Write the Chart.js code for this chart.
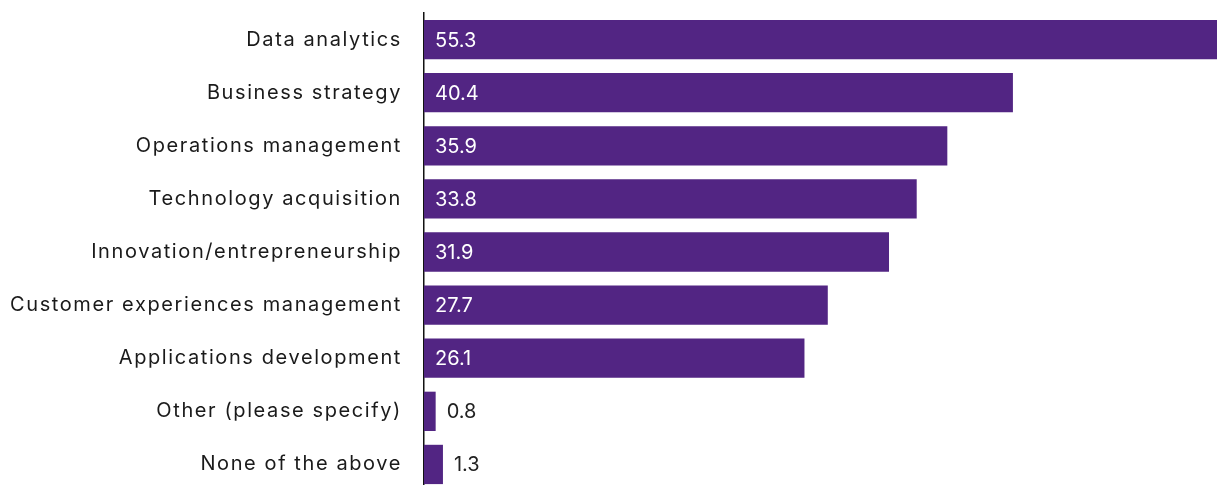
<!DOCTYPE html>
<html>
<head>
<meta charset="utf-8">
<script src="https://cdn.jsdelivr.net/npm/chart.js@4/dist/chart.umd.min.js"></script>
<style>
  html, body { margin: 0; padding: 0; background: #fff; overflow: hidden; }
  canvas { display: block; }
</style>
</head>
<body>
<canvas id="skillsChart" width="1217" height="491"></canvas>
<script>
const categories = [
    'Data analytics',
    'Business strategy',
    'Operations management',
    'Technology acquisition',
    'Innovation/entrepreneurship',
    'Customer experiences management',
    'Applications development',
    'Other (please specify)',
    'None of the above'
];
const values = [55.3, 40.4, 35.9, 33.8, 31.9, 27.7, 26.1, 0.8, 1.3];

const barColor = '#522583';
const fontFamily = 'Inter, "Noto Sans", sans-serif';

// spaced-out lettering like the original typeface
const spacing = {
    id: 'spacing',
    beforeDraw(chart) { chart.ctx.letterSpacing = '1.6px'; }
};

// value labels: white inside long bars, dark beside short ones
const valueLabels = {
    id: 'valueLabels',
    afterDatasetsDraw(chart) {
        const c = chart.ctx;
        const meta = chart.getDatasetMeta(0);
        c.save();
        c.letterSpacing = '0px';
        c.font = '20px ' + fontFamily;
        c.textBaseline = 'middle';
        meta.data.forEach((bar, i) => {
            const txt = values[i].toFixed(1);
            const w = bar.x - bar.base;
            if (w > 60) {
                c.fillStyle = '#ffffff';
                c.fillText(txt, bar.base + 11, bar.y + 1);
            } else {
                c.fillStyle = '#222222';
                c.fillText(txt, bar.x + 11, bar.y + 1);
            }
        });
        c.restore();
    }
};

new Chart(document.getElementById('skillsChart'), {
    type: 'bar',
    data: {
        labels: categories,
        datasets: [{
            data: values,
            backgroundColor: barColor,
            borderWidth: 0,
            categoryPercentage: 1,
            barPercentage: 0.74
        }]
    },
    options: {
        indexAxis: 'y',
        responsive: false,
        animation: false,
        layout: { padding: { top: 13, bottom: 0, left: 0, right: 0 } },
        plugins: {
            legend: { display: false },
            tooltip: { enabled: false }
        },
        scales: {
            x: {
                min: 0,
                max: 54.4,
                display: false
            },
            y: {
                afterFit(scale) {
                    scale.width = 424;
                    scale.paddingTop = 0;
                    scale.paddingBottom = 0;
                },
                grid: { display: false, drawTicks: false },
                border: { display: true, color: '#111', width: 1.5 },
                ticks: {
                    color: '#1a1a1a',
                    padding: 22,
                    font: { family: fontFamily, size: 20 }
                }
            }
        }
    },
    plugins: [spacing, valueLabels]
});
</script>
</body>
</html>
